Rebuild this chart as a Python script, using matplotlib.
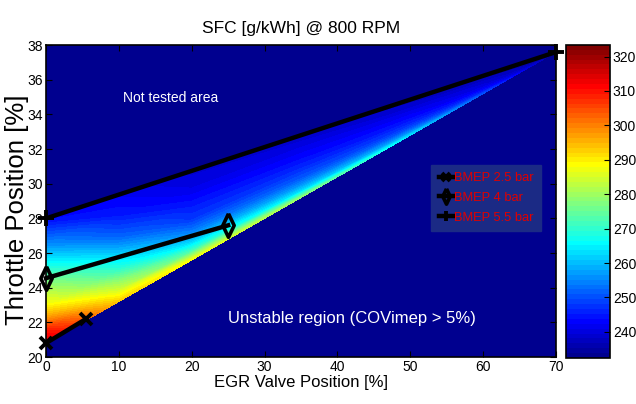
import numpy as np
import matplotlib
matplotlib.use('Agg')
import matplotlib.pyplot as plt
from matplotlib.colors import LinearSegmentedColormap, Normalize
from matplotlib.cm import ScalarMappable

# measured operating lines (EGR valve %, throttle %)
bmep25_egr = [0.0, 5.5]
bmep25_thr = [20.8, 22.2]
bmep4_egr = [0.0, 25.0]
bmep4_thr = [24.55, 27.6]
bmep55_egr = [0.0, 70.0]
bmep55_thr = [28.0, 37.6]

# tested area: columns in EGR, lower / upper throttle limit of each column
map_egr = [0, 10, 20, 35, 50, 60, 70]
map_thr_low = [20.8, 23.2, 25.6, 29.2, 32.8, 35.2, 37.6]
map_thr_high = [28.0, 29.37, 30.74, 32.8, 34.86, 36.22, 37.6]
# position across the tested band (0 = lower limit, 1 = upper limit)
map_frac = [0, 0.1, 0.2, 0.3, 0.45, 0.6, 0.8, 1.0]

# SFC [g/kWh], one row per map_frac, one column per map_egr
sfc = [
    [316, 293, 288, 279, 263, 250, 234],
    [309, 285, 272, 263, 255, 246, 234],
    [298, 278, 262, 256, 250, 244, 234],
    [289, 270, 255, 251, 247, 242, 234],
    [280, 261, 248, 247, 244, 240, 234],
    [269, 252, 245, 244, 242, 239, 234],
    [255, 245, 241, 241, 239, 237, 234],
    [243, 242, 239, 238, 237, 236, 234],
]

sfc_min, sfc_max = 232.4, 323.4

# matlab style jet(64)
jet = LinearSegmentedColormap.from_list(
    'mjet', [(0, (0, 0, 0.5625)), (7/63., (0, 0, 1)), (23/63., (0, 1, 1)),
             (39/63., (1, 1, 0)), (55/63., (1, 0, 0)), (1, (0.5, 0, 0))], N=64)

plt.rcParams['font.family'] = ['Liberation Sans', 'DejaVu Sans']

fig = plt.figure(figsize=(6.36, 4.04), dpi=100)
ax = fig.add_axes([0.0723, 0.1163, 0.802, 0.772])
cax = fig.add_axes([0.89, 0.1139, 0.0692, 0.775])

ax.set_facecolor(jet(0))
lo = np.array(map_thr_low)
hi = np.array(map_thr_high)
X = np.tile(map_egr, (len(map_frac), 1))
Y = lo + np.outer(map_frac, hi - lo)
levels = np.linspace(sfc_min, sfc_max, 65)
ax.contourf(X, Y, np.array(sfc), levels=levels, cmap=jet, vmin=sfc_min, vmax=sfc_max,
            antialiased=False)

diamond = [(0, 1), (0.48, 0), (0, -1), (-0.48, 0), (0, 1)]
l1, = ax.plot(bmep25_egr, bmep25_thr, 'k-', marker='x', ms=9, mew=2.8, lw=3.2, clip_on=False)
l2, = ax.plot(bmep4_egr, bmep4_thr, 'k-', marker=diamond, ms=17, mew=2.6, mfc='none', lw=3.2, clip_on=False)
l3, = ax.plot(bmep55_egr, bmep55_thr, 'k-', marker='+', ms=11, mew=2.8, lw=3.2, clip_on=False)

ax.text(10.6, 34.92, 'Not tested area', color='white', fontsize=10, va='center')
ax.text(25.0, 22.25, 'Unstable region (COVimep > 5%)', color='white', fontsize=12, va='center')

leg = ax.legend([l1, l2, l3], ['BMEP 2.5 bar', 'BMEP 4 bar', 'BMEP 5.5 bar'],
                loc='center right', bbox_to_anchor=(0.97, 0.51), fontsize=9.3,
                facecolor='#1b2a85', edgecolor='#1b2a85', framealpha=1, fancybox=False,
                handlelength=1.1, handletextpad=0.1, labelspacing=0.6, borderpad=0.55,
                borderaxespad=0, markerscale=0.65)
for t in leg.get_texts():
    t.set_color('#e00000')

ax.set_xlim(0, 70)
ax.set_ylim(20, 38)
ax.set_xticks(range(0, 71, 10))
ax.set_yticks(range(20, 39, 2))
ax.tick_params(direction='in', top=True, right=True, labelsize=10, length=4, width=0.8, pad=2)
for s in ax.spines.values():
    s.set_linewidth(1.2)

ax.set_title('SFC [g/kWh] @ 800 RPM', fontsize=12.5, pad=9)
ax.set_xlabel('EGR Valve Position [%]', fontsize=12, labelpad=1)
ax.set_ylabel('Throttle Position [%]', fontsize=18.5)
ax.yaxis.set_label_coords(-0.034, 0.471)

cb = fig.colorbar(ScalarMappable(Normalize(sfc_min, sfc_max), jet), cax=cax)
cb.set_ticks(range(240, 321, 10))
cax.tick_params(direction='in', labelsize=10, length=4, width=0.8, pad=2)
cb.outline.set_linewidth(1.2)

fig.savefig('out.png', dpi=100)
